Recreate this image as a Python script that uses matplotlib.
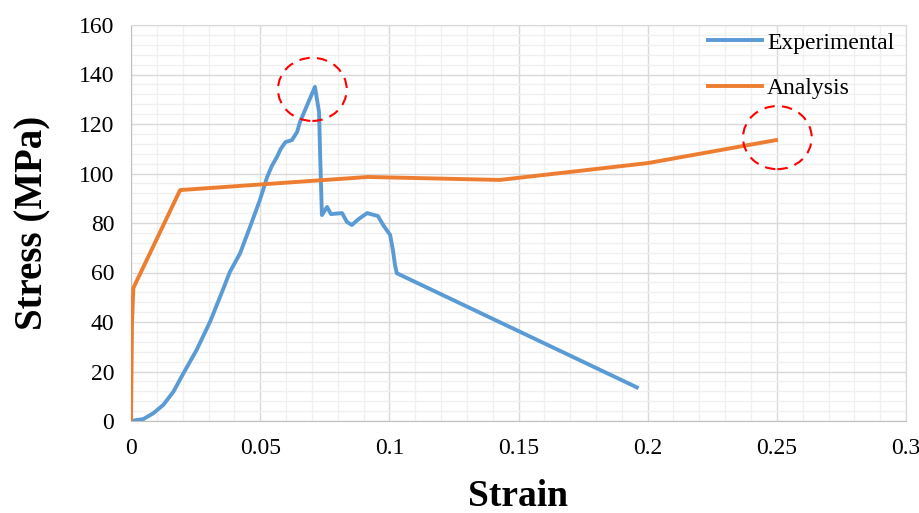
import numpy as np
import matplotlib
matplotlib.use("Agg")
import matplotlib.pyplot as plt
from matplotlib.patches import Ellipse
from matplotlib.ticker import MultipleLocator

plt.rcParams['font.family'] = ['Liberation Serif', 'DejaVu Serif']

# Experimental curve (strain, stress MPa)
exp_strain = [0.0, 0.0048, 0.0086, 0.0125, 0.0164, 0.0203, 0.0254, 0.0306, 0.0345,
              0.0383, 0.0422, 0.0461, 0.0499, 0.0527, 0.0545, 0.0565, 0.058, 0.0598,
              0.0623, 0.0643, 0.0654, 0.0712, 0.0728, 0.0732, 0.0739, 0.0759, 0.0774,
              0.0817, 0.0836, 0.0855, 0.088, 0.0914, 0.0956, 0.0976, 0.1003, 0.1014,
              0.1022, 0.1029, 0.1958]
exp_stress = [0.0, 0.8, 3.1, 6.5, 11.8, 19.3, 28.7, 40.1, 50.2,
              60.3, 67.7, 78.5, 89.3, 98.6, 103.0, 106.7, 110.0, 112.7,
              113.5, 116.8, 120.8, 135.0, 124.8, 108.0, 83.2, 86.5, 83.6,
              84.0, 80.4, 79.2, 81.5, 84.0, 82.8, 79.2, 75.2, 69.0,
              63.0, 59.7, 13.6]

# Analysis curve
ana_strain = [0.0, 0.0004, 0.0009, 0.019, 0.0917, 0.1428, 0.2, 0.2497]
ana_stress = [0.0, 40.0, 53.7, 93.3, 98.6, 97.4, 104.2, 113.5]

# highlighted points (dashed circles)
circle_x = [0.0702, 0.2502]
circle_y = [134.0, 114.5]

fig = plt.figure(figsize=(9.2, 5.13), dpi=100)
ax = fig.add_axes([131 / 920, 1 - 421 / 513, 775 / 920, 396 / 513])

ax.plot(exp_strain, exp_stress, color='#5B9BD5', lw=2.8, label='Experimental',
        solid_joinstyle='round', zorder=3)
ax.plot(ana_strain, ana_stress, color='#ED7D31', lw=2.8, label='Analysis',
        solid_joinstyle='round', zorder=3)

for cx, cy in zip(circle_x, circle_y):
    ax.add_patch(Ellipse((cx, cy), width=0.0266, height=25.5, fill=False,
                         edgecolor='red', lw=1.5, ls=(0, (5, 3.5)), zorder=4))

ax.set_xlim(0, 0.3)
ax.set_ylim(0, 160)
ax.xaxis.set_major_locator(MultipleLocator(0.05))
ax.xaxis.set_minor_locator(MultipleLocator(0.01))
ax.yaxis.set_major_locator(MultipleLocator(20))
ax.yaxis.set_minor_locator(MultipleLocator(4))
ax.set_xticks([0, 0.05, 0.1, 0.15, 0.2, 0.25, 0.3])
ax.set_xticklabels(['0', '0.05', '0.1', '0.15', '0.2', '0.25', '0.3'])

ax.grid(which='major', color='#D9D9D9', lw=1.0, zorder=0)
ax.grid(which='minor', color='#F0F0F0', lw=1.0, zorder=0)
ax.set_axisbelow(True)
ax.tick_params(which='both', length=0, labelsize=17)
ax.tick_params(axis='x', pad=12)
ax.tick_params(axis='y', pad=12)
for side in ['top', 'right']:
    ax.spines[side].set_color('#D9D9D9')
for side in ['left', 'bottom']:
    ax.spines[side].set_color('#BFBFBF')

ax.set_xlabel('Strain', fontsize=27, fontweight='bold')
ax.set_ylabel('Stress (MPa)', fontsize=28, fontweight='bold')
ax.xaxis.set_label_coords(0.5, -0.146)
ax.yaxis.set_label_coords(-0.103, 0.5)

ax.legend(loc='upper left', bbox_to_anchor=(708 / 920, 1 - 32 / 513),
          bbox_transform=fig.transFigure, frameon=False, fontsize=17,
          handlelength=2.3, handletextpad=0.2, labelspacing=1.03,
          borderpad=0, borderaxespad=0)

fig.savefig('out.png', dpi=100)
